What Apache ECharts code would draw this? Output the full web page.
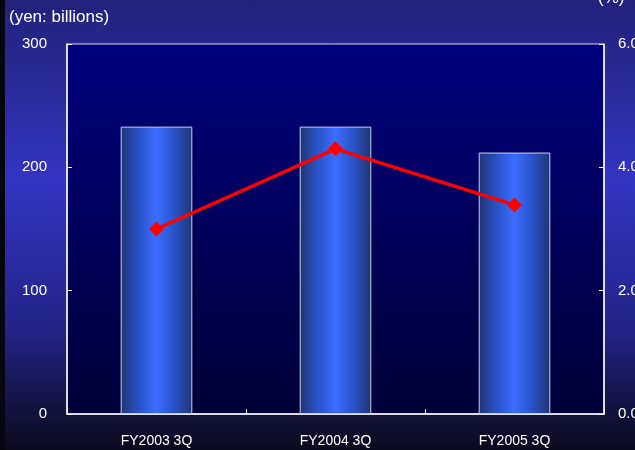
<!DOCTYPE html>
<html>
<head>
<meta charset="utf-8">
<script src="https://cdn.jsdelivr.net/npm/echarts@6/dist/echarts.min.js"></script>
<style>
  html, body { margin: 0; padding: 0; }
  body {
    width: 635px; height: 450px; overflow: hidden;
    background: linear-gradient(to bottom, #22227a 0%, #3434c2 40%, #24248c 72%, #0a0a1c 100%);
  }
  #edge { position: absolute; left: 0; top: 0; width: 5px; height: 450px; background: #060610; }
  #chart { position: absolute; left: 0; top: 0; width: 635px; height: 450px; }
</style>
</head>
<body>
<div id="edge"></div>
<div id="chart"></div>
<script>
const categories = ["FY2003 3Q", "FY2004 3Q", "FY2005 3Q"];
const salesValues = [233, 233, 212];
const ratioValues = [3.0, 4.3, 3.39];

const chart = echarts.init(document.getElementById("chart"), null, { renderer: "canvas" });

const labelFont = "'Liberation Sans', Arial, sans-serif";

chart.setOption({
  backgroundColor: "transparent",
  animation: false,
  grid: {
    left: 67,
    right: 31,
    top: 44,
    bottom: 36,
    outerBoundsMode: "none",
    containLabel: false,
    show: true,
    borderColor: "#d8d8e8",
    borderWidth: 1,
    backgroundColor: new echarts.graphic.LinearGradient(0, 0, 0, 1, [
      { offset: 0, color: "#00007e" },
      { offset: 1, color: "#000038" },
    ]),
  },
  graphic: [
    {
      type: "text",
      left: 9,
      top: 9,
      style: { text: "(yen: billions)", fill: "#ffffff", font: "17px " + labelFont },
    },
    {
      type: "text",
      left: 598,
      top: -10,
      style: { text: "(%)", fill: "#ffffff", font: "17px " + labelFont },
    },
  ],
  xAxis: {
    type: "category",
    data: categories,
    axisLine: { lineStyle: { color: "#ffffff", width: 1.5 } },
    axisTick: { show: true, inside: true, length: 5, lineStyle: { color: "#ffffff" } },
    axisLabel: { color: "#ffffff", fontSize: 14, fontFamily: labelFont, margin: 20 },
  },
  yAxis: [
    {
      type: "value",
      min: 0,
      max: 300,
      interval: 100,
      axisLine: { show: true, lineStyle: { color: "#ffffff", width: 1.5 } },
      axisTick: { show: true, inside: true, length: 5, lineStyle: { color: "#ffffff" } },
      axisLabel: { color: "#ffffff", fontSize: 15, fontFamily: labelFont, margin: 20 },
      splitLine: { show: false },
    },
    {
      type: "value",
      min: 0,
      max: 6,
      interval: 2,
      axisLine: { show: true, lineStyle: { color: "#ffffff", width: 1.5 } },
      axisTick: { show: true, inside: true, length: 5, lineStyle: { color: "#ffffff" } },
      axisLabel: {
        color: "#ffffff",
        fontSize: 15,
        fontFamily: labelFont,
        margin: 14,
        formatter: (v) => v.toFixed(1),
      },
      splitLine: { show: false },
    },
  ],
  series: [
    {
      type: "bar",
      yAxisIndex: 0,
      data: salesValues,
      barWidth: "40%",
      itemStyle: {
        color: new echarts.graphic.LinearGradient(0, 0, 1, 0, [
          { offset: 0, color: "#1e3570" },
          { offset: 0.25, color: "#2a52c8" },
          { offset: 0.5, color: "#3a6cff" },
          { offset: 0.75, color: "#2a52c8" },
          { offset: 1, color: "#1e3570" },
        ]),
        borderColor: "#c8d0e8",
        borderWidth: 1,
      },
    },
    {
      type: "line",
      yAxisIndex: 1,
      data: ratioValues,
      symbol: "diamond",
      symbolSize: 15,
      lineStyle: { color: "#ff0000", width: 3.5 },
      itemStyle: { color: "#ff0000" },
      z: 5,
    },
  ],
});
</script>
</body>
</html>
